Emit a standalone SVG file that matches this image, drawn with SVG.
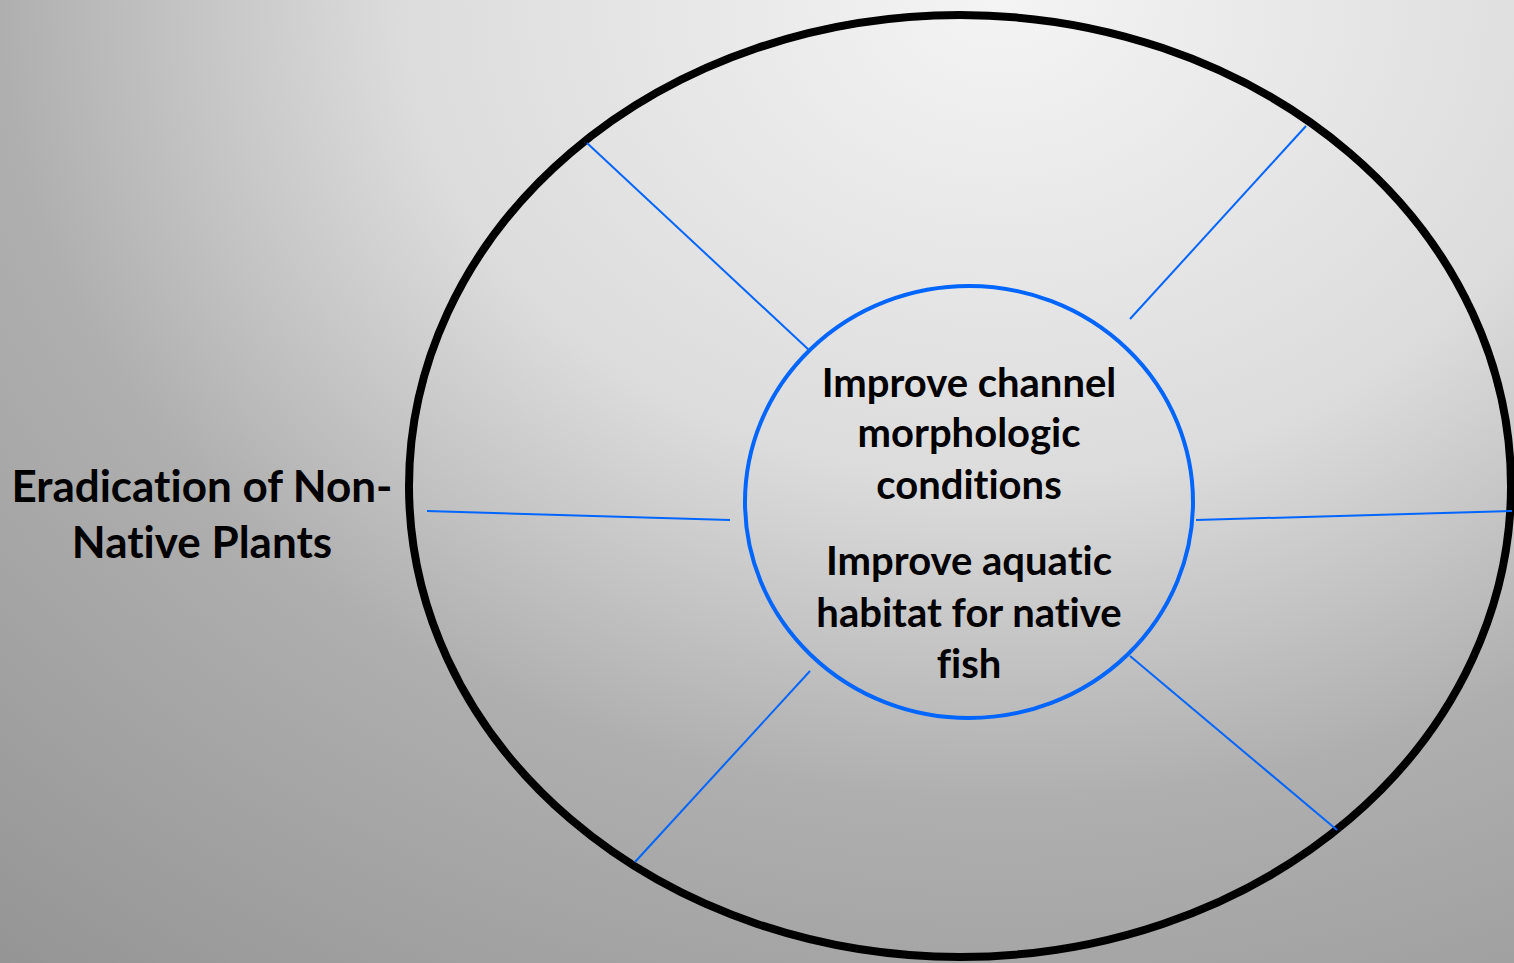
<svg xmlns="http://www.w3.org/2000/svg" width="1514" height="963" viewBox="0 0 1514 963">
  <defs>
    <radialGradient id="bg" gradientUnits="userSpaceOnUse" cx="1000" cy="0" r="1600" gradientTransform="translate(1000,0) scale(1,0.8) translate(-1000,0)">
      <stop offset="0" stop-color="#f4f4f4"/>
      <stop offset="0.0625" stop-color="#f0f0f0"/>
      <stop offset="0.375" stop-color="#dcdcdc"/>
      <stop offset="0.625" stop-color="#afafaf"/>
      <stop offset="1" stop-color="#939393"/>
    </radialGradient>
    <style>
      .lbl { font-family: Lato, "Liberation Sans", sans-serif; font-weight: bold; fill: #000; text-anchor: middle; font-variant-ligatures: none; font-feature-settings: "liga" 0; }
      .c { font-size: 40px; }
      .l { font-size: 44px; }
      .conn { stroke: #0066ff; stroke-width: 2; fill: none; }
    </style>
  </defs>
  <rect x="0" y="0" width="1514" height="963" fill="url(#bg)"/>
  <g id="outer">
    <ellipse cx="960" cy="486" rx="551" ry="471" fill="none" stroke="#000" stroke-width="8"/>
  </g>
  <g id="connectors">
    <line class="conn" x1="587" y1="143" x2="809" y2="350"/>
    <line class="conn" x1="1306" y1="126" x2="1130" y2="319"/>
    <line class="conn" x1="427" y1="511" x2="730" y2="520"/>
    <line class="conn" x1="1196" y1="520" x2="1512" y2="511"/>
    <line class="conn" x1="810" y1="671" x2="635" y2="862"/>
    <line class="conn" x1="1130" y1="656" x2="1337" y2="830"/>
  </g>
  <g id="center">
    <ellipse cx="969" cy="502" rx="224" ry="216" fill="none" stroke="#0066ff" stroke-width="4"/>
    <text class="lbl c" x="969" y="397">Improve channel</text>
    <text class="lbl c" x="969" y="447">morphologic</text>
    <text class="lbl c" x="969" y="499">conditions</text>
    <text class="lbl c" x="969" y="575">Improve aquatic</text>
    <text class="lbl c" x="969" y="627">habitat for native</text>
    <text class="lbl c" x="969" y="678">fish</text>
  </g>
  <g id="left-label">
    <text class="lbl l" x="202" y="502">Eradication of Non-</text>
    <text class="lbl l" x="202" y="558">Native Plants</text>
  </g>
</svg>
